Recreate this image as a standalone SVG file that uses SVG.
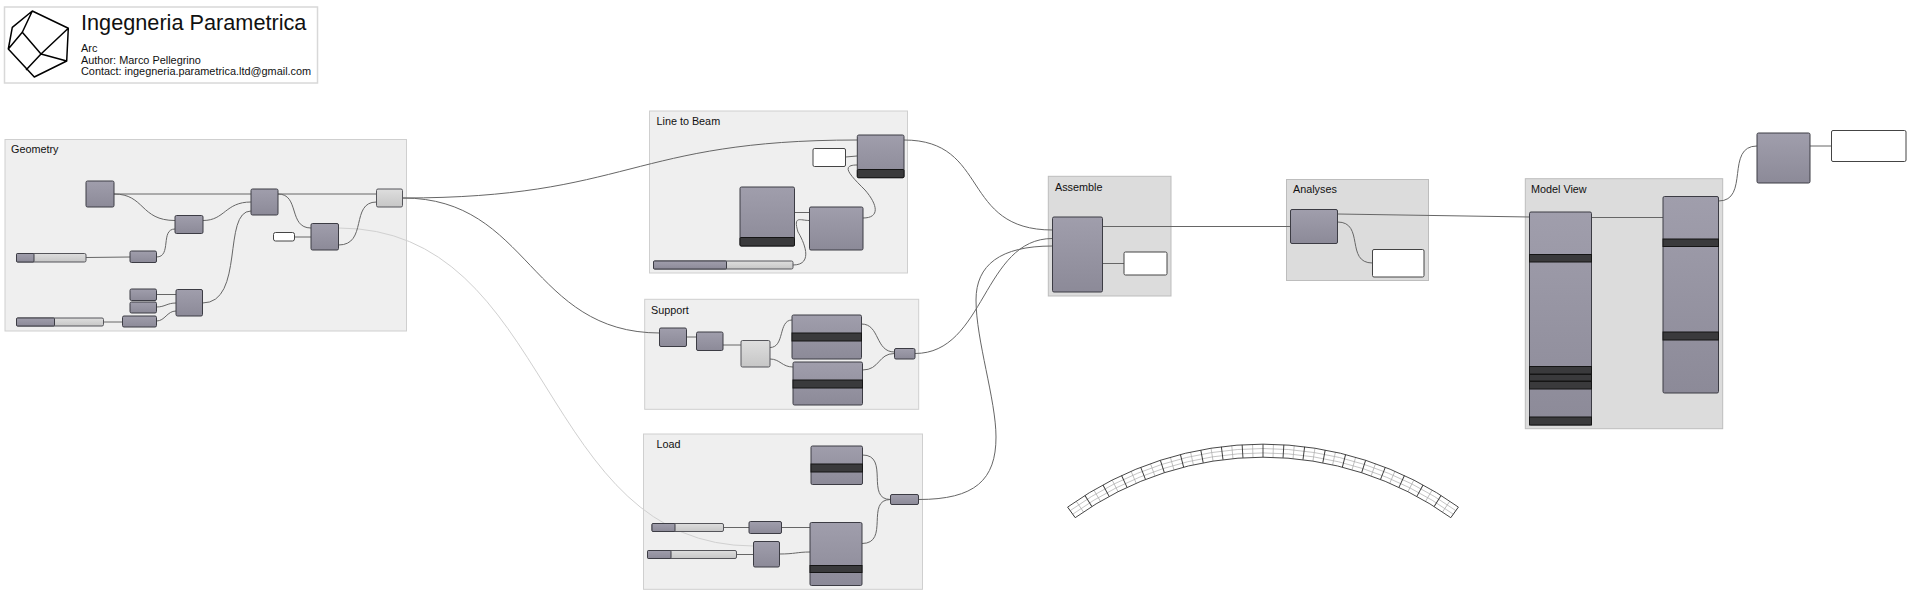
<svg xmlns="http://www.w3.org/2000/svg" xmlns:xlink="http://www.w3.org/1999/xlink" width="1912" height="599" viewBox="0 0 1912 599">
<style>
text{font-family:"Liberation Sans",Arial,sans-serif;fill:#111}
.t{font-size:10.9px}
.h{font-size:10.8px}
.grp{fill:#efefef;stroke:#cfcfcf;stroke-width:1}
.grd{fill:#dcdcdc;stroke:#bdbdbd;stroke-width:1}
.n{fill:url(#ng);stroke:#3c3c44;stroke-width:1}
.l{fill:url(#lg);stroke:#55555a;stroke-width:1}
.w{fill:#fff;stroke:#444;stroke-width:1}
.b{fill:#3a3a3c;stroke:#151515;stroke-width:1}
.s{fill:url(#lg);stroke:#55555a;stroke-width:1}
#wires path{fill:none;stroke:#666;stroke-width:1}
#wires path.f{stroke:#d0d0d0}
.logo{fill:none;stroke:#000;stroke-width:1.5;stroke-linejoin:round}
.a{fill:none;stroke:#333;stroke-width:.9}
.al{fill:none;stroke:#aaa;stroke-width:.7}
</style>
<defs>
<linearGradient id="ng" x1="0" y1="0" x2="0" y2="1"><stop offset="0" stop-color="#a09eac"/><stop offset="1" stop-color="#8c8a98"/></linearGradient>
<linearGradient id="lg" x1="0" y1="0" x2="0" y2="1"><stop offset="0" stop-color="#dedede"/><stop offset="1" stop-color="#c6c6c6"/></linearGradient>
<line id="r" x1="1263" y1="444.2" x2="1263" y2="457.2" stroke="#333" stroke-width=".9"/>
<line id="m" x1="1263" y1="444.2" x2="1263" y2="457.2" stroke="#aaa" stroke-width=".7"/>
</defs>
<rect width="1912" height="599" fill="#fff"/>

<g id="title-block">
<rect x="4.5" y="7" width="313" height="76" fill="#fff" stroke="#d8d8d8" stroke-width="1.5"/>
<path class="logo" d="M32.3 11 68.3 28.3 66.7 61 34.3 77 8.3 49 12.3 27.3ZM32.3 11 22.3 32.3 8.3 49M22.3 32.3 41 54M41 54 68.3 28.3M41 54 66.7 61M41 54 26 70"/>
<text x="81" y="30" font-size="21.700">Ingegneria Parametrica</text>
<text class="t" x="81" y="52">Arc</text>
<text class="t" x="81" y="63.500">Author: Marco Pellegrino</text>
<text class="t" x="81" y="75">Contact: ingegneria.parametrica.ltd@gmail.com</text>
</g>

<g id="group-geometry"><rect class="grp" x="5" y="139.500" width="401.500" height="191.500"/><text class="h" x="11" y="153">Geometry</text></g>
<g id="group-line-to-beam"><rect class="grp" x="649.500" y="111" width="258" height="162"/><text class="h" x="656.500" y="125">Line to Beam</text></g>
<g id="group-support"><rect class="grp" x="644.700" y="299.300" width="274" height="110"/><text class="h" x="651" y="314">Support</text></g>
<g id="group-load"><rect class="grp" x="643.500" y="434" width="279" height="155.300"/><text class="h" x="656.500" y="448">Load</text></g>
<g id="group-assemble"><rect class="grd" x="1048.300" y="176.300" width="122.700" height="119.700"/><text class="h" x="1055" y="191">Assemble</text></g>
<g id="group-analyses"><rect class="grd" x="1286.500" y="179.500" width="142" height="101"/><text class="h" x="1293" y="193">Analyses</text></g>
<g id="group-model-view"><rect class="grd" x="1525.300" y="178.700" width="197.400" height="250"/><text class="h" x="1531" y="193">Model View</text></g>

<g id="wires">
<path class="f" d="M338.500 228C555 228 537 546 753.500 546"/>
<path d="M114 194H376.500"/>
<path d="M114 194C145 194 140 220.500 175 220.500"/>
<path d="M203 220.500C225 220.500 225 202 251 202"/>
<path d="M156.500 257C172 257 160 229 175 229"/>
<path d="M202.500 303C245 303 222 211 251 211"/>
<path d="M86 257.500 130 257"/>
<path d="M156.500 294.500H176"/>
<path d="M156.500 307C165 307 167 303 176 303"/>
<path d="M156.500 321C165 321 167 311 176 311"/>
<path d="M103.500 322H122.500"/>
<path d="M278 194C300 194 288 228 311 228"/>
<path d="M294.500 237H311"/>
<path d="M338.500 245C368 245 350 202 376.500 202"/>
<path d="M403 198C630 198 630 140 857 140"/>
<path d="M403 198C530 198 530 333 660 333"/>
<path d="M904 140C990 140 960 230 1052.500 230"/>
<path d="M845.500 157 857 156"/>
<path d="M863 218C880 218 878 205 865 190 850 175 840 165 857 165"/>
<path d="M794 212.500H809.500"/>
<path d="M793 265C815 265 803 240 798 232 793 215 800 220.500 809.500 220.500"/>
<path d="M686.500 337H696.500"/>
<path d="M723 345H741"/>
<path d="M770 347.500C785 347.500 778 320 792 320"/>
<path d="M770 359C780 359 782 367 793 367"/>
<path d="M861.500 324C880 324 875 352 894.500 352"/>
<path d="M862.500 370C880 370 878 353.500 894.500 353.500"/>
<path d="M915 353.500C985 353.500 983 238.500 1052.500 238.500"/>
<path d="M862.500 455C890 455 865 499.500 890.500 499.500"/>
<path d="M862 543.500C890 543.500 865 499.500 890.500 499.500"/>
<path d="M723.500 527.500H749"/>
<path d="M781.500 527.500H810"/>
<path d="M736.500 554.500H753.500"/>
<path d="M779.500 554C795 554 797 552 810 552"/>
<path d="M918.500 499.500C975 499.500 996 480 996 437 996 400 976 340 976 300 976 265 1000 246 1052.500 246"/>
<path d="M1102.500 226.500H1290.500"/>
<path d="M1102.500 263.500H1124"/>
<path d="M1337.500 214 1529.500 217"/>
<path d="M1337.500 222C1365 222 1345 263 1372.500 263"/>
<path d="M1591.500 217.500H1663"/>
<path d="M1718.500 201C1750 201 1725 146 1757 146"/>
<path d="M1810 146H1831.500"/>
</g>

<g id="geo-1"><rect class="n" x="86" y="181" width="28" height="26" rx="1.500"/></g>
<g id="geo-2"><rect class="n" x="175" y="215.500" width="28" height="18" rx="1.500"/></g>
<g id="geo-3"><rect class="n" x="251" y="189" width="27" height="26" rx="1.500"/></g>
<g id="geo-4"><rect class="n" x="311" y="223.500" width="27.500" height="26.500" rx="1.500"/></g>
<g id="geo-5"><rect class="l" x="376.500" y="189" width="26" height="18" rx="1.500"/></g>
<g id="geo-white"><rect class="w" x="273.500" y="232.500" width="21" height="8.500" rx="2"/></g>
<g id="geo-slider-1"><rect class="s" x="16.500" y="253.500" width="69.500" height="8.500" rx="1.500"/><rect class="n" x="16.500" y="253.500" width="17.500" height="8.500" rx="1"/></g>
<g id="geo-6"><rect class="n" x="130" y="251" width="26.500" height="11.500" rx="1.500"/></g>
<g id="geo-slider-2"><rect class="s" x="16.500" y="318" width="87" height="8" rx="1.500"/><rect class="n" x="16.500" y="318" width="38" height="8" rx="1"/></g>
<g id="geo-7"><rect class="n" x="122.500" y="316" width="34" height="11" rx="1.500"/></g>
<g id="geo-8"><rect class="n" x="130" y="289" width="26.500" height="11.500" rx="1.500"/></g>
<g id="geo-9"><rect class="n" x="130" y="302" width="26.500" height="11" rx="1.500"/></g>
<g id="geo-10"><rect class="n" x="176" y="289.500" width="26.500" height="26.500" rx="1.500"/></g>

<g id="beam-a"><rect class="n" x="857.300" y="135" width="46.700" height="42.700" rx="1.500"/><rect class="b" x="857.300" y="169.500" width="46.700" height="8.200" rx="1"/></g>
<g id="beam-white"><rect class="w" x="813" y="148.500" width="32.500" height="18" rx="1.500"/></g>
<g id="beam-b"><rect class="n" x="740" y="187" width="54.500" height="59" rx="1.500"/><rect class="b" x="740" y="237.500" width="54.500" height="8.500" rx="1"/></g>
<g id="beam-c"><rect class="n" x="809.500" y="207" width="53.500" height="43" rx="1.500"/></g>
<g id="beam-slider"><rect class="s" x="653.500" y="261" width="139.500" height="8" rx="1.500"/><rect class="n" x="653.500" y="261" width="73" height="8" rx="1"/></g>

<g id="sup-1"><rect class="n" x="659.500" y="328" width="27" height="18.500" rx="1.500"/></g>
<g id="sup-2"><rect class="n" x="696.500" y="332" width="26.500" height="18.500" rx="1.500"/></g>
<g id="sup-3"><rect class="l" x="741" y="340.500" width="29" height="26.500" rx="1.500"/></g>
<g id="sup-4"><rect class="n" x="792" y="315" width="69.500" height="44" rx="1.500"/><rect class="b" x="792" y="333" width="69.500" height="8"/></g>
<g id="sup-5"><rect class="n" x="793" y="362" width="69.500" height="43" rx="1.500"/><rect class="b" x="793" y="380" width="69.500" height="8"/></g>
<g id="sup-6"><rect class="n" x="894.500" y="348.500" width="20.500" height="10.500" rx="1.500"/></g>

<g id="load-1"><rect class="n" x="811" y="446" width="51.500" height="38.500" rx="1.500"/><rect class="b" x="811" y="464" width="51.500" height="8"/></g>
<g id="load-2"><rect class="n" x="890.500" y="494.500" width="28" height="10" rx="1.500"/></g>
<g id="load-slider-1"><rect class="s" x="652" y="523.500" width="71.500" height="8" rx="1.500"/><rect class="n" x="652" y="523.500" width="23" height="8" rx="1"/></g>
<g id="load-3"><rect class="n" x="749" y="521.500" width="32.500" height="12" rx="1.500"/></g>
<g id="load-slider-2"><rect class="s" x="647.500" y="550.500" width="89" height="8" rx="1.500"/><rect class="n" x="647.500" y="550.500" width="23.500" height="8" rx="1"/></g>
<g id="load-4"><rect class="n" x="753.500" y="541.500" width="26" height="25.500" rx="1.500"/></g>
<g id="load-5"><rect class="n" x="810" y="522.500" width="52" height="63" rx="1.500"/><rect class="b" x="810" y="565.500" width="52" height="7"/></g>

<g id="assemble-1"><rect class="n" x="1052.500" y="217" width="50" height="75" rx="1.500"/></g>
<g id="assemble-white"><rect class="w" x="1124" y="252" width="43" height="23" rx="1.500"/></g>
<g id="analyses-1"><rect class="n" x="1290.500" y="209.500" width="47" height="34" rx="1.500"/></g>
<g id="analyses-white"><rect class="w" x="1372.500" y="249.500" width="51.500" height="27.500" rx="1.500"/></g>
<g id="view-1"><rect class="n" x="1529.500" y="212" width="62" height="213" rx="1.500"/><rect class="b" x="1529.500" y="254.500" width="62" height="7.500"/><rect class="b" x="1529.500" y="366.500" width="62" height="7.500"/><rect class="b" x="1529.500" y="374.500" width="62" height="6.500"/><rect class="b" x="1529.500" y="381.500" width="62" height="7.500"/><rect class="b" x="1529.500" y="417" width="62" height="8"/></g>
<g id="view-2"><rect class="n" x="1663" y="196.500" width="55.500" height="196.500" rx="1.500"/><rect class="b" x="1663" y="239" width="55.500" height="7.500"/><rect class="b" x="1663" y="332" width="55.500" height="8"/></g>
<g id="output-1"><rect class="n" x="1757" y="133" width="53" height="50" rx="1.500"/></g>
<g id="output-white"><rect class="w" x="1831.500" y="130.500" width="74.500" height="31" rx="1.500"/></g>

<g id="arc-preview">
<path class="al" d="M1070.200 510.600A330.500 330.500 0 0 1 1455.800 510.600M1072.700 514.200A326.100 326.100 0 0 1 1453.300 514.200"/>
<use xlink:href="#m" transform="rotate(-33.915 1263 779)"/><use xlink:href="#m" transform="rotate(-30.345 1263 779)"/><use xlink:href="#m" transform="rotate(-26.775 1263 779)"/><use xlink:href="#m" transform="rotate(-23.205 1263 779)"/><use xlink:href="#m" transform="rotate(-19.635 1263 779)"/><use xlink:href="#m" transform="rotate(-16.065 1263 779)"/><use xlink:href="#m" transform="rotate(-12.495 1263 779)"/><use xlink:href="#m" transform="rotate(-8.925 1263 779)"/><use xlink:href="#m" transform="rotate(-5.355 1263 779)"/><use xlink:href="#m" transform="rotate(-1.785 1263 779)"/><use xlink:href="#m" transform="rotate(1.785 1263 779)"/><use xlink:href="#m" transform="rotate(5.355 1263 779)"/><use xlink:href="#m" transform="rotate(8.925 1263 779)"/><use xlink:href="#m" transform="rotate(12.495 1263 779)"/><use xlink:href="#m" transform="rotate(16.065 1263 779)"/><use xlink:href="#m" transform="rotate(19.635 1263 779)"/><use xlink:href="#m" transform="rotate(23.205 1263 779)"/><use xlink:href="#m" transform="rotate(26.775 1263 779)"/><use xlink:href="#m" transform="rotate(30.345 1263 779)"/><use xlink:href="#m" transform="rotate(33.915 1263 779)"/>
<path class="a" d="M1067.600 507.100A334.800 334.800 0 0 1 1458.400 507.100M1075.200 517.700A321.800 321.800 0 0 1 1450.800 517.700"/>
<use xlink:href="#r" transform="rotate(-35.7 1263 779)"/><use xlink:href="#r" transform="rotate(-32.13 1263 779)"/><use xlink:href="#r" transform="rotate(-28.56 1263 779)"/><use xlink:href="#r" transform="rotate(-24.99 1263 779)"/><use xlink:href="#r" transform="rotate(-21.42 1263 779)"/><use xlink:href="#r" transform="rotate(-17.85 1263 779)"/><use xlink:href="#r" transform="rotate(-14.28 1263 779)"/><use xlink:href="#r" transform="rotate(-10.71 1263 779)"/><use xlink:href="#r" transform="rotate(-7.14 1263 779)"/><use xlink:href="#r" transform="rotate(-3.57 1263 779)"/><use xlink:href="#r"/><use xlink:href="#r" transform="rotate(3.57 1263 779)"/><use xlink:href="#r" transform="rotate(7.14 1263 779)"/><use xlink:href="#r" transform="rotate(10.71 1263 779)"/><use xlink:href="#r" transform="rotate(14.28 1263 779)"/><use xlink:href="#r" transform="rotate(17.85 1263 779)"/><use xlink:href="#r" transform="rotate(21.42 1263 779)"/><use xlink:href="#r" transform="rotate(24.99 1263 779)"/><use xlink:href="#r" transform="rotate(28.56 1263 779)"/><use xlink:href="#r" transform="rotate(32.13 1263 779)"/><use xlink:href="#r" transform="rotate(35.7 1263 779)"/>
</g>
</svg>
